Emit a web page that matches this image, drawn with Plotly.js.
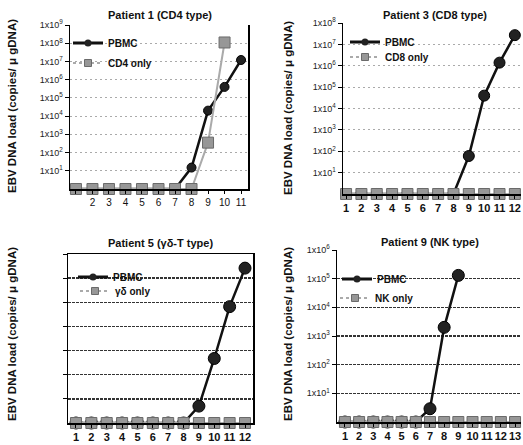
<!DOCTYPE html>
<html><head><meta charset="utf-8">
<script src="https://cdn.plot.ly/plotly-3.0.1.min.js"></script>
<style>body{margin:0;background:#fff}#c{width:523px;height:445px}</style>
</head><body><div id="c"></div>
<script>
// Data (values of 1 = below detection, drawn on the baseline)
const days1 = [1,2,3,4,5,6,7,8,9,10,11];
const p1PBMC = [1,1,1,1,1,1,1,15,2e4,4e5,1.2e7];
const days1cd4 = [1,2,3,4,5,6,7,8,9,10];
const p1CD4 = [1,1,1,1,1,1,1,1,350,1.1e8];
const days3 = [1,2,3,4,5,6,7,8,9,10,11,12];
const p3PBMC = [1,1,1,1,1,1,1,1,60,4e4,1.4e6,2.7e7];
const p3CD8 = [1,1,1,1,1,1,1,1,1,1,1,1];
const days5 = [1,2,3,4,5,6,7,8,9,10,11,12];
const p5PBMC = [1,1,1,1,1,1,1,1,5,470,6.6e4,2.6e6];
const p5GD = [1,1,1,1,1,1,1,1,1,1,1,1];
const days9 = [1,2,3,4,5,6,7,8,9];
const p9PBMC = [1,1,1,1,1,1,2.9,2000,1.3e5];
const days9nk = [1,2,3,4,5,6,7,8,9,10,11,12,13];
const p9NK = [1,1,1,1,1,1,1,1,1,1,1,1,1];
const titles = ['Patient 1 (CD4 type)','Patient 3 (CD8 type)','Patient 5 (\u03b3\u03b4-T type)','Patient 9 (NK type)'];
const names = ['PBMC','CD4 only','CD8 only','\u03b3\u03b4 only','NK only'];
const yTitle = 'EBV DNA load (copies/ \u03bc gDNA)';

const W=523,H=445;
const FONT='Liberation Sans, Arial, sans-serif';
const PB_LINE={color:'#111',width:2.5}, ON_LINE={color:'#aaa',width:2};
function pbmc(x,y,ax,sz){return {x:x,y:y,xaxis:'x'+ax,yaxis:'y'+ax,name:names[0],showlegend:false,mode:'lines+markers',cliponaxis:false,
  line:PB_LINE,marker:{symbol:'circle',size:sz,color:'#222',line:{color:'#000',width:1}}};}
function only(x,y,ax,nm){return {x:x,y:y,xaxis:'x'+ax,yaxis:'y'+ax,name:nm,showlegend:false,mode:'lines+markers',cliponaxis:false,
  line:ON_LINE,marker:{symbol:'square',size:11,color:'#979797',line:{color:'#6a6a6a',width:1}}};}
// legend-only entries (small symbols as in the reference legend)
function legPB(ax,leg){return {x:[null],y:[null],xaxis:'x'+ax,yaxis:'y'+ax,name:names[0],legend:leg,showlegend:true,mode:'lines+markers',
  line:{color:'#111',width:3},marker:{symbol:'circle',size:7,color:'#222'}};}
function legON(ax,leg,nm){return {x:[null],y:[null],xaxis:'x'+ax,yaxis:'y'+ax,name:nm,legend:leg,showlegend:true,mode:'lines+markers',
  line:{color:'#aaa',width:2,dash:'dot'},marker:{symbol:'square',size:7,color:'#979797',line:{color:'#6a6a6a',width:1}}};}
const data=[
  pbmc(days1,p1PBMC,'',9), only(days1cd4,p1CD4,'',names[1]),
  pbmc(days3,p3PBMC,'2',11), only(days3,p3CD8,'2',names[2]),
  pbmc(days5,p5PBMC,'3',12), only(days5,p5GD,'3',names[3]),
  pbmc(days9,p9PBMC,'4',12), only(days9nk,p9NK,'4',names[4]),
  legPB('','legend'), legON('','legend2',names[1]),
  legPB('2','legend3'), legON('2','legend4',names[2]),
  legPB('3','legend5'), legON('3','legend6',names[3]),
  legPB('4','legend7'), legON('4','legend8',names[4])
];

function px(v){return v/W;} function py(v){return 1-v/H;}
function sup(n){return '1x10<sup>'+n+'</sup>';}
function yax(dom,maxExp,labels,gridDark,mirror,anchor){
  const tv=[],tt=[];
  for(let i=1;i<=maxExp;i++){tv.push(Math.pow(10,i));tt.push(labels?sup(i):'');}
  return {domain:dom,anchor:anchor,type:'log',range:[0,maxExp],tickvals:tv,ticktext:tt,ticks:'outside',ticklen:4,tickcolor:'#000',
    showline:true,linecolor:'#000',linewidth:1.5,mirror:mirror,zeroline:false,
    showgrid:true,gridcolor:gridDark?'#333':'#aaa',gridwidth:gridDark?1.3:1,griddash:gridDark?'3px,1px':'2px,3px',
    tickfont:{family:FONT,size:9,color:'#222'},fixedrange:true};
}
function xax(dom,range,n,skipFirst,bold,anchor,mirror){
  const tv=[],tt=[];
  for(let i=1;i<=n;i++){tv.push(i);tt.push(skipFirst&&i===1?'':String(i));}
  return {domain:dom,range:range,tickvals:tv,ticktext:tt,ticks:'outside',ticklen:3,tickcolor:'#000',showgrid:false,zeroline:false,
    showline:true,linecolor:'#000',linewidth:1.5,mirror:mirror,anchor:anchor,tickangle:0,
    tickfont:{family:FONT,size:bold?11:10,color:'#111',weight:bold?'bold':'normal'},fixedrange:true};
}
function leg(textX,cy){return {x:px(textX-40),y:py(cy),xanchor:'left',yanchor:'middle',bgcolor:'rgba(0,0,0,0)',itemwidth:30,
  font:{family:FONT,size:10,color:'#111',weight:'bold'},borderwidth:0};}
function ytitle(x,y){return {text:'<b>'+yTitle+'</b>',x:px(x),y:py(y),xref:'paper',yref:'paper',xanchor:'center',yanchor:'middle',
  showarrow:false,textangle:-90,font:{family:FONT,size:11.5,color:'#111'}};}
function ptitle(i,x,y){return {text:'<b>'+titles[i]+'</b>',x:px(x),y:py(y),xref:'paper',yref:'paper',xanchor:'center',yanchor:'middle',
  showarrow:false,font:{family:FONT,size:11,color:'#111'}};}

const layout={
  width:W,height:H,margin:{l:0,r:0,t:0,b:0},paper_bgcolor:'#fff',plot_bgcolor:'#fff',showlegend:true,
  xaxis: xax([px(70),px(248)],[0.64,11.42],11,true,false,'y',false),
  yaxis: yax([1-189/H,1-25/H],9,true,false,true,'x'),
  xaxis2:xax([px(343),px(521)],[0.8,12.4],12,false,true,'y2',false),
  yaxis2:yax([1-194/H,1-23/H],8,true,false,false,'x2'),
  xaxis3:xax([px(68),px(253)],[0.48,12.52],12,false,true,'y3',true),
  yaxis3:yax([1-423/H,1-254/H],7,false,true,true,'x3'),
  xaxis4:xax([px(337),px(521)],[0.44,13.42],13,false,true,'y4',false),
  yaxis4:yax([1-422/H,1-250/H],6,true,true,false,'x4'),
  legend:leg(108,43), legend2:leg(108,63),
  legend3:leg(385,42), legend4:leg(385,57),
  legend5:leg(113,277), legend6:leg(115,291),
  legend7:leg(377,279), legend8:leg(375,298),
  annotations:[
    ptitle(0,160,15), ptitle(1,435,15), ptitle(2,160,243), ptitle(3,430,242),
    ytitle(12,106), ytitle(288,108), ytitle(12,334), ytitle(288,334)
  ]
};
Plotly.newPlot('c',data,layout,{staticPlot:true,displayModeBar:false});
</script></body></html>
